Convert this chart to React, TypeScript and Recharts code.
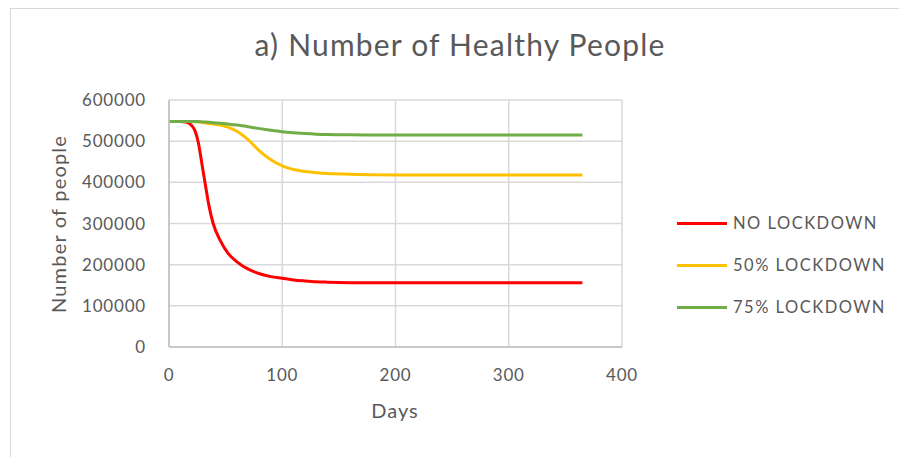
import { LineChart, Line, XAxis, YAxis, CartesianGrid } from 'recharts';

const days = [0, 10, 15, 20, 23, 26, 29, 32, 35, 39, 45, 52, 60, 70, 80, 90, 100, 110, 120, 130, 140, 150, 160, 180, 200, 250, 300, 365];

const noLockdown = [548000, 548000, 546500, 538000, 525000, 495000, 446000, 396000, 347000, 300000, 260000, 228000, 207000, 189000, 178000, 171000, 167000, 163000, 160500, 158500, 157500, 156800, 156300, 156000, 156000, 156000, 156000, 156000];
const lockdown50 = [548000, 548000, 548000, 547500, 547000, 546500, 545500, 544500, 543000, 541500, 539000, 534000, 524000, 503000, 476000, 455000, 440000, 431000, 426500, 423500, 421500, 420500, 419500, 418500, 418000, 418000, 418000, 418000];
const lockdown75 = [548000, 548000, 548000, 548000, 547800, 547500, 547000, 546500, 546000, 545000, 543500, 541500, 539000, 535000, 530500, 526500, 523000, 520500, 518500, 517000, 516200, 515800, 515500, 515200, 515000, 515000, 515000, 515000];

const xTicks = [0, 100, 200, 300, 400];
const yTicks = [0, 100000, 200000, 300000, 400000, 500000, 600000];

const series = [
    { key: 'none', name: 'NO LOCKDOWN', color: '#ff0000' },
    { key: 'half', name: '50% LOCKDOWN', color: '#ffc000' },
    { key: 'most', name: '75% LOCKDOWN', color: '#70ad47' },
];

const data = days.map((d, i) => ({
    day: d,
    none: noLockdown[i],
    half: lockdown50[i],
    most: lockdown75[i],
}));

const FONT = 'Lato, "Open Sans", sans-serif';
const TEXT = '#595959';
const tickStyle = { fill: TEXT, fontSize: 17, fontFamily: FONT, letterSpacing: 0.8 };

export default function App() {
    return (
        <div style={{ position: 'relative', width: 899, height: 457, overflow: 'hidden', background: '#fff' }}>
            <style>{'body{margin:0}'}</style>
            <div style={{ position: 'absolute', left: 10, top: 8, width: 900, height: 460, border: '1px solid #d9d9d9' }} />
            <div style={{ position: 'absolute', left: 0, top: 26, width: 920, textAlign: 'center', fontFamily: FONT, fontSize: 30, letterSpacing: 1.2, color: TEXT }}>
                a) Number of Healthy People
            </div>
            <div style={{ position: 'absolute', left: 395, top: 398, transform: 'translateX(-50%)', fontFamily: FONT, fontSize: 20, letterSpacing: 1, color: TEXT }}>
                Days
            </div>
            <div style={{ position: 'absolute', left: 58, top: 224, transform: 'translate(-50%, -50%) rotate(-90deg)', whiteSpace: 'nowrap', fontFamily: FONT, fontSize: 20, letterSpacing: 1.2, color: TEXT }}>
                Number of people
            </div>
            <div style={{ position: 'absolute', left: 677, top: 202 }}>
                {series.map((s) => (
                    <div key={s.key} style={{ display: 'flex', alignItems: 'center', height: 42 }}>
                        <div style={{ width: 50, height: 3, background: s.color, marginRight: 6 }} />
                        <span style={{ fontFamily: FONT, fontSize: 16.5, color: TEXT, letterSpacing: 1.5 }}>{s.name}</span>
                    </div>
                ))}
            </div>
            <div style={{ position: 'absolute', left: 0, top: 0 }}>
                <LineChart width={899} height={457} data={data} margin={{ top: 100, right: 277, bottom: 80, left: 69 }}>
                    <CartesianGrid stroke="#d9d9d9" strokeWidth={1.5} />
                    <XAxis
                        dataKey="day"
                        type="number"
                        domain={[0, 400]}
                        ticks={xTicks}
                        height={30}
                        tickSize={0}
                        tickMargin={22}
                        axisLine={{ stroke: '#bfbfbf', strokeWidth: 1.5 }}
                        tick={tickStyle}
                    />
                    <YAxis
                        type="number"
                        domain={[0, 600000]}
                        ticks={yTicks}
                        width={100}
                        tickSize={0}
                        tickMargin={23}
                        axisLine={{ stroke: '#bfbfbf', strokeWidth: 1.5 }}
                        tick={tickStyle}
                    />
                    {series.map((s) => (
                        <Line key={s.key} type="monotone" dataKey={s.key} name={s.name} stroke={s.color} strokeWidth={3} dot={false} isAnimationActive={false} />
                    ))}
                </LineChart>
            </div>
        </div>
    );
}
